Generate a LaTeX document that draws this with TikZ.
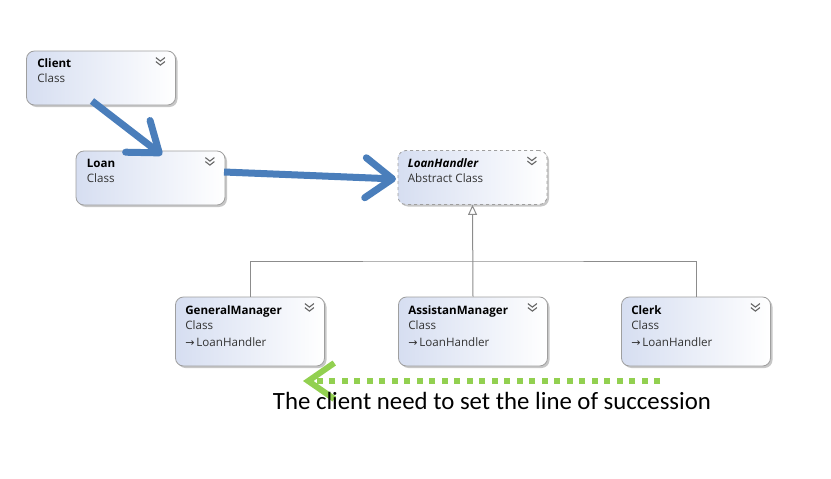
\documentclass[tikz,border=0pt]{standalone}
\usepackage{fontspec}
\setmainfont{Open Sans}
\newfontfamily\calfont{Carlito}
\newfontfamily\symfont{DejaVu Sans}
\usetikzlibrary{shadows,arrows.meta,calc}
\definecolor{boxblue}{HTML}{D6DEF1}
\definecolor{arrowblue}{HTML}{4A7EBB}
\definecolor{greenarrow}{HTML}{92D050}
\definecolor{linegray}{HTML}{8C8C8C}
\newcommand\chevicon[1]{%
  \draw[chevstyle] ($(#1.north east)+(-20,7)$) -- ++(4.5,3.5) -- ++(4.5,-3.5);
  \draw[chevstyle] ($(#1.north east)+(-20,11)$) -- ++(4.5,3.5) -- ++(4.5,-3.5);}
\begin{document}
\begin{tikzpicture}[x=1pt,y=-1pt,
  classbox/.style={draw=gray!75, line width=0.8pt, rounded corners=8pt,
    left color=boxblue, right color=white, minimum width=149pt, inner sep=0pt,
    drop shadow={shadow xshift=2pt, shadow yshift=-2pt, fill=black, opacity=0.22}},
  twoline/.style={classbox, minimum height=54pt},
  threeline/.style={classbox, minimum height=69pt},
  nametext/.style={anchor=base west, inner sep=0pt, font=\fontsize{11.6}{14}\selectfont\bfseries},
  kindtext/.style={anchor=base west, inner sep=0pt, font=\fontsize{11.6}{14}\selectfont, text=black!80},
  basetext/.style={anchor=base west, inner sep=0pt, font=\fontsize{11.6}{14}\selectfont, text=black!80},
  chevstyle/.style={draw=gray!80!black, line width=1.1pt},
  bluearrow/.style={draw=arrowblue, line width=7pt,
    -{Straight Barb[length=27pt, width=40pt, line width=7pt, round]}},
  greenarr/.style={draw=greenarrow, line width=6pt, dash pattern=on 6pt off 6.5pt,
    -{Straight Barb[length=26pt, width=36pt, line width=6pt]}},
  inh/.style={draw=linegray, line width=1pt}
]
\useasboundingbox (0,0) rectangle (831,479);

% boxes
\node[twoline] (client) at (101,78) {};
\node[twoline] (loan) at (150.5,178) {};
\node[twoline, dashed] (lh) at (472.5,177.5) {};
\node[threeline] (gm) at (250,331.5) {};
\node[threeline] (am) at (473,331.5) {};
\node[threeline] (clerk) at (696,331.5) {};

% texts
\node[nametext] (clientn) at ($(client.north west)+(11,17)$) {Client};
\node[kindtext] (clientk) at ($(client.north west)+(11,32)$) {Class};
\node[nametext] (loann) at ($(loan.north west)+(11,17)$) {Loan};
\node[kindtext] (loank) at ($(loan.north west)+(11,32)$) {Class};
\node[nametext] (lhn) at ($(lh.north west)+(10,17)$) {\itshape LoanHandler};
\node[kindtext] (lhk) at ($(lh.north west)+(10,32)$) {Abstract Class};
\node[nametext] (gmn) at ($(gm.north west)+(10,18)$) {GeneralManager};
\node[kindtext] (gmk) at ($(gm.north west)+(10,33)$) {Class};
\node[basetext] (gmb) at ($(gm.north west)+(10,50)$) {{\symfont\fontsize{11}{12}\selectfont →}\,LoanHandler};
\node[nametext] (amn) at ($(am.north west)+(10,18)$) {AssistanManager};
\node[kindtext] (amk) at ($(am.north west)+(10,33)$) {Class};
\node[basetext] (amb) at ($(am.north west)+(10,50)$) {{\symfont\fontsize{11}{12}\selectfont →}\,LoanHandler};
\node[nametext] (clerkn) at ($(clerk.north west)+(10,18)$) {Clerk};
\node[kindtext] (clerkk) at ($(clerk.north west)+(10,33)$) {Class};
\node[basetext] (clerkb) at ($(clerk.north west)+(10,50)$) {{\symfont\fontsize{11}{12}\selectfont →}\,LoanHandler};

% chevrons
\chevicon{client}
\chevicon{loan}
\chevicon{lh}
\chevicon{gm}
\chevicon{am}
\chevicon{clerk}

% inheritance
\coordinate (junc) at (am.north |- 0,261);
\draw[inh] (gm.north) |- (junc) -| (clerk.north);
\draw[inh, -{Triangle[open, length=10pt, width=9pt, fill=white]}] (am.north) -- (lh.south);

% blue arrows
\coordinate (a1s) at (92,101);
\coordinate (a1e) at (162,155);
\coordinate (a2s) at (224,172);
\coordinate (a2e) at (396,179);
\draw[bluearrow] (a1s) -- (a1e);
\draw[bluearrow] (a2s) -- (a2e);

% green arrow
\coordinate (g1s) at (660,381);
\coordinate (g1e) at (303,381);
\draw[greenarr] (g1s) -- (g1e);

\node[anchor=base, inner sep=0pt, font=\calfont\fontsize{24.8}{28}\selectfont] (note) at (492,409) {The client need to set the line of succession};
\end{tikzpicture}
\end{document}
